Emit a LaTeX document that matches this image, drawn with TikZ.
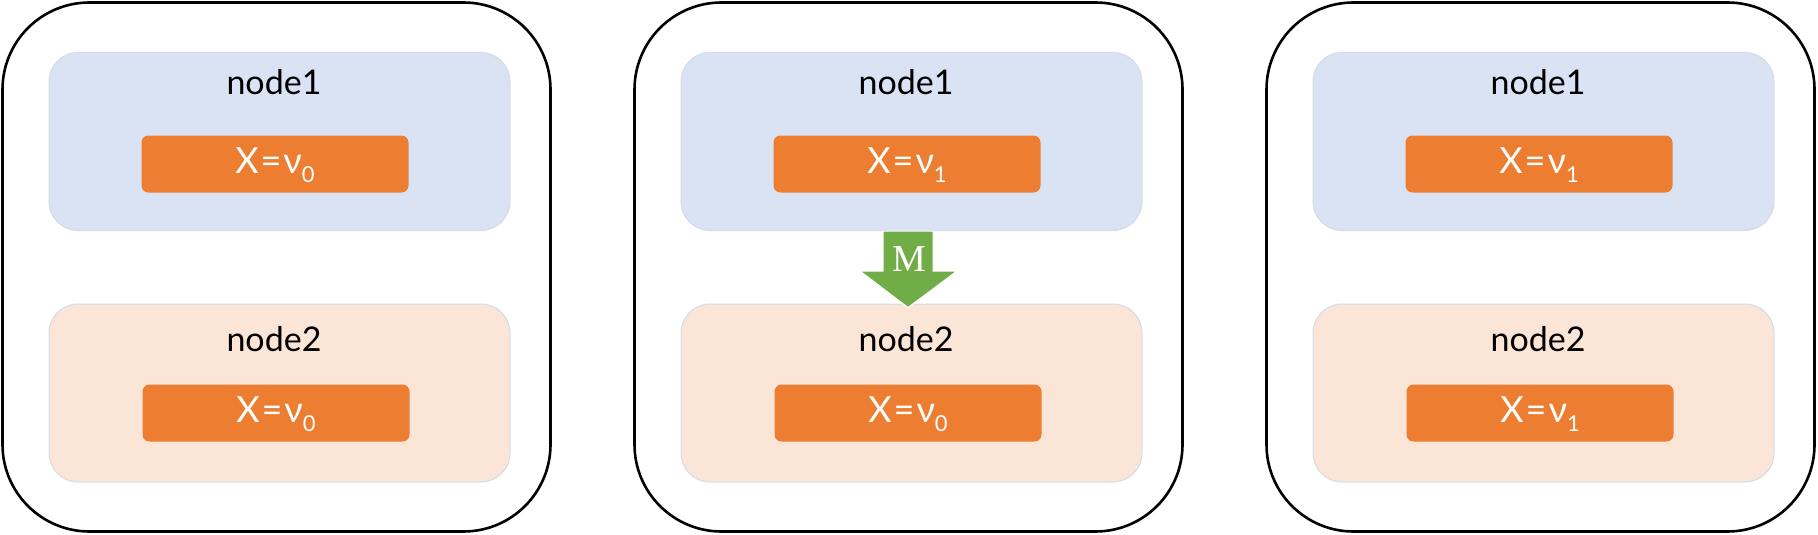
\documentclass[tikz,border=0pt]{standalone}
\usepackage{fontspec}
\setmainfont{Lato}
\newfontfamily\msgfont{Liberation Serif}
\usetikzlibrary{positioning, calc}
\definecolor{boxblue}{HTML}{DAE3F3}
\definecolor{boxpeach}{HTML}{FBE5D6}
\definecolor{boxedge}{HTML}{D3DBE8}
\definecolor{valorange}{HTML}{ED7D31}
\definecolor{msggreen}{HTML}{70AD47}

% value text X = nu_i
\newcommand{\xval}[1]{X\kern2pt=\kern2ptν\raisebox{-9pt}{\fontsize{22}{24}\selectfont #1}}

\tikzset{
  panel/.style={draw=black, line width=2.6pt, rounded corners=87pt,
    minimum width=548pt, minimum height=529pt, inner sep=0pt},
  holder/.style={draw=boxedge, line width=1pt, rounded corners=29pt,
    minimum width=461pt, minimum height=178pt, inner sep=0pt},
  valbox/.style={fill=valorange, rounded corners=7pt, minimum width=267pt,
    minimum height=57pt, inner sep=0pt, text=white, text height=18pt, text depth=0pt,
    font=\fontsize{36}{40}\selectfont},
  lbl/.style={inner sep=0pt, font=\fontsize{34}{40}\selectfont}
}

\begin{document}
\begin{tikzpicture}[x=1pt, y=-1pt]
  \useasboundingbox (0,0) rectangle (1818,535);

  % three panels: offset / value at node1 / value at node2 / name
  \foreach \px/\ia/\ib/\p in {0/0/0/a, 632/1/0/b, 1264/1/1/c} {
    \node[panel] (panel\p) at (\px+276.5,267) {};

    % node1
    \node[holder, fill=boxblue] (nodeA\p) at (\px+279.5,141.5) {};
    \node[lbl] (lblA\p) at (\px+274,82) {node1};
    \node[valbox] (valA\p) at (\px+275,164) {\xval{\ia}};

    % node2
    \node[holder, fill=boxpeach] (nodeB\p) at (\px+279.5,393) {};
    \node[lbl] (lblB\p) at (\px+274,339) {node2};
    \node[valbox] (valB\p) at (\px+276,413) {\xval{\ib}};
  }

  % message arrow in the middle panel
  \coordinate (mtop) at ($(nodeAb.south)+(-3.5,0)$);
  \coordinate (mtip) at ($(nodeBb.north)+(-3.5,4)$);
  \fill[msggreen, draw=white, line width=1pt]
    ($(mtop)+(-25,0)$) -- ($(mtop)+(25,0)$) -- ($(mtop)+(25,40)$) -- ($(mtop)+(49,40)$)
    -- (mtip) -- ($(mtop)+(-48,40)$) -- ($(mtop)+(-25,40)$) -- cycle;
  \node[inner sep=0pt, text=white, font=\msgfont\fontsize{38}{40}\selectfont] (msg) at ($(mtop)+(1,28)$) {M};
\end{tikzpicture}
\end{document}
